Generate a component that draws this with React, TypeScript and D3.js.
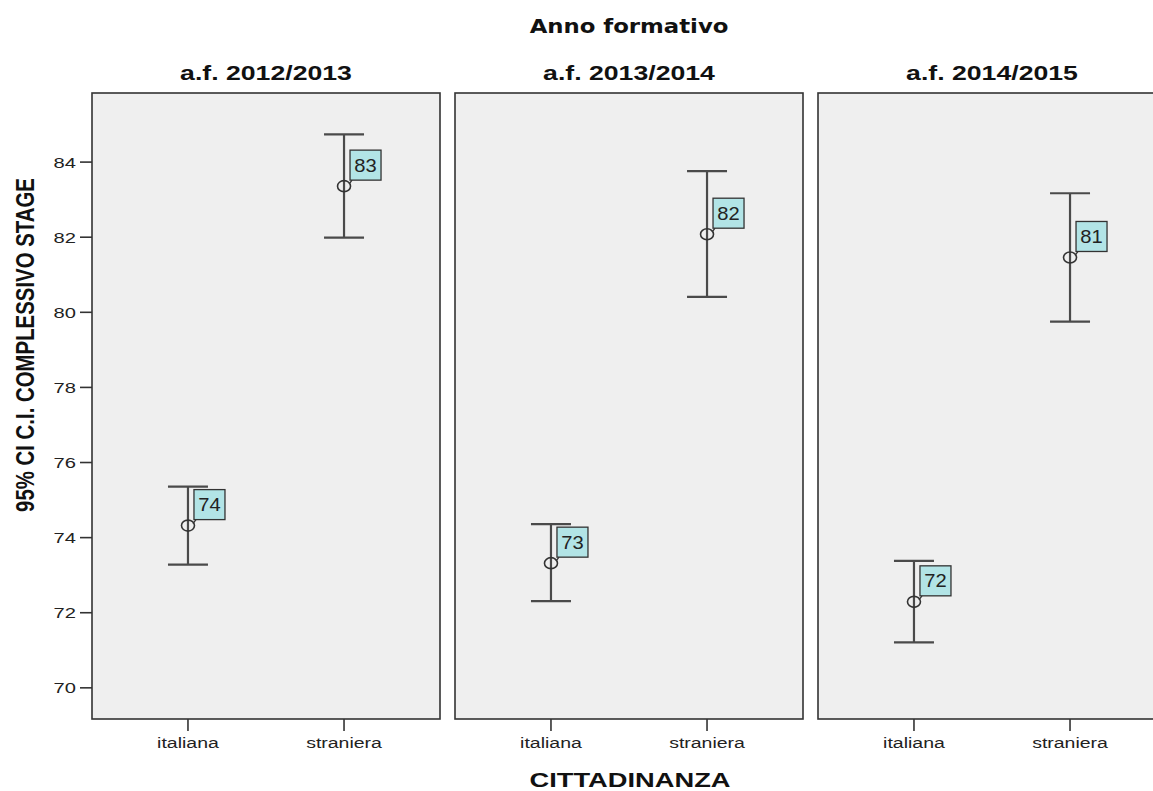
import React from "react";
import * as d3 from "d3";

const years = ["a.f. 2012/2013", "a.f. 2013/2014", "a.f. 2014/2015"];
const groups = ["italiana", "straniera"];
const means = [
  [74.32, 83.36],
  [73.32, 82.08],
  [72.29, 81.46],
];
const lower = [
  [73.28, 81.99],
  [72.31, 80.41],
  [71.21, 79.75],
];
const upper = [
  [75.36, 84.74],
  [74.36, 83.76],
  [73.38, 83.17],
];
const yTicks = [70, 72, 74, 76, 78, 80, 82, 84];

const W = 1153;
const H = 791;
const SX = 1.3;
const panelLefts = [92, 455, 818];
const panelW = 348;
const top = 93;
const bottom = 719;

export default function App() {
  const y = d3.scaleLinear().domain([69.17, 85.84]).range([bottom, top]);
  const x = d3.scalePoint<string>().domain(groups).range([0, panelW]).padding(0.615);
  const arial = "Liberation Sans, Arial, sans-serif";
  const T = (tx: number, ty: number, s: number = SX) => `translate(${tx},${ty}) scale(${s},1)`;

  return (
    <svg
      width={W}
      height={H}
      style={{ position: "absolute", left: 0, top: 0, background: "#fff" }}
    >
      <text
        transform={T(629, 33, 1.2)}
        textAnchor="middle"
        fontFamily="DejaVu Sans, sans-serif"
        fontWeight="bold"
        fontSize={19}
        fill="#111"
      >
        Anno formativo
      </text>
      {years.map((yr, pi) => {
        const x0 = panelLefts[pi];
        return (
          <g key={yr}>
            <text
              transform={T(x0 + panelW / 2, 80)}
              textAnchor="middle"
              fontFamily={arial}
              fontWeight="bold"
              fontSize={20.5}
              fill="#111"
            >
              {yr}
            </text>
            <rect
              x={x0}
              y={top}
              width={panelW}
              height={bottom - top}
              fill="#efefef"
              stroke="#333"
              strokeWidth={1.6}
            />
            {groups.map((g, gi) => {
              const cx = x0 + (x(g) as number);
              const cm = y(means[pi][gi]);
              const lo = y(lower[pi][gi]);
              const hi = y(upper[pi][gi]);
              const bx = cx + 6;
              const bw = 31;
              const bh = 30;
              const by = cm - 6 - bh;
              return (
                <g key={g}>
                  <line x1={cx} x2={cx} y1={bottom} y2={bottom + 12} stroke="#333" strokeWidth={1.6} />
                  <text
                    transform={T(cx, 748)}
                    textAnchor="middle"
                    fontFamily={arial}
                    fontSize={15}
                    fill="#222"
                  >
                    {g}
                  </text>
                  <line x1={cx} x2={cx} y1={hi} y2={lo} stroke="#4a4a4a" strokeWidth={2.2} />
                  <line x1={cx - 20} x2={cx + 20} y1={hi} y2={hi} stroke="#4a4a4a" strokeWidth={2.2} />
                  <line x1={cx - 20} x2={cx + 20} y1={lo} y2={lo} stroke="#4a4a4a" strokeWidth={2.2} />
                  <line x1={cx + 5} y1={cm - 2} x2={bx + 2} y2={by + bh} stroke="#333" strokeWidth={1.3} />
                  <ellipse cx={cx} cy={cm} rx={6.5} ry={5.5} fill="none" stroke="#333" strokeWidth={1.6} />
                  <rect x={bx} y={by} width={bw} height={bh} fill="#b2e4e6" stroke="#333" strokeWidth={1.3} />
                  <text
                    transform={T(bx + bw / 2, by + bh / 2 + 6.5, 1.12)}
                    textAnchor="middle"
                    fontFamily={arial}
                    fontSize={18}
                    fill="#222"
                  >
                    {d3.format(".0f")(means[pi][gi])}
                  </text>
                </g>
              );
            })}
          </g>
        );
      })}
      {yTicks.map((t) => (
        <g key={t}>
          <line x1={80} x2={92} y1={y(t)} y2={y(t)} stroke="#333" strokeWidth={1.6} />
          <text
            transform={T(76, y(t) + 5.5)}
            textAnchor="end"
            fontFamily={arial}
            fontSize={15.5}
            fill="#222"
          >
            {t}
          </text>
        </g>
      ))}
      <text
        transform={`translate(34,345) rotate(-90) scale(1,${SX})`}
        textAnchor="middle"
        fontFamily={arial}
        fontWeight="bold"
        fontSize={20.4}
        fill="#111"
      >
        95% CI C.I. COMPLESSIVO STAGE
      </text>
      <text
        transform={T(630, 787)}
        textAnchor="middle"
        fontFamily={arial}
        fontWeight="bold"
        fontSize={21}
        fill="#111"
      >
        CITTADINANZA
      </text>
    </svg>
  );
}
